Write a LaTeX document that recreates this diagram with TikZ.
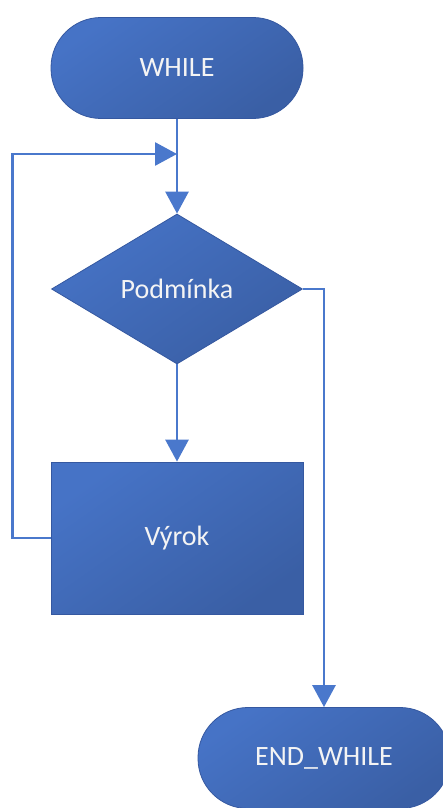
\documentclass[tikz,border=0pt]{standalone}
\usepackage{fontspec}
\setmainfont{Carlito}
\usetikzlibrary{shapes.geometric,arrows.meta}
\definecolor{flowlight}{HTML}{4673C6}
\definecolor{flowdark}{HTML}{3A5FA5}
\definecolor{flowedge}{HTML}{3558A0}
\definecolor{flowline}{HTML}{4A78CC}
\definecolor{flowtext}{HTML}{F4F4F4}
\tikzset{
  flowshape/.style={draw=flowedge, line width=0.8pt, top color=flowlight,
    bottom color=flowdark, shading angle=35, text=flowtext, inner sep=0pt,
    font=\fontsize{28}{34}\selectfont},
  terminal/.style={flowshape, rectangle, rounded corners=50pt,
    minimum width=252pt, minimum height=101pt},
  decision/.style={flowshape, diamond, aspect=1.67,
    minimum width=251pt, minimum height=150pt},
  process/.style={flowshape, rectangle, minimum width=252pt, minimum height=152pt},
  flow/.style={draw=flowline, line width=2.8pt},
  flowarrow/.style={flow, -{Triangle[width=23pt,length=22pt]}}
}
\begin{document}
\begin{tikzpicture}[x=1pt,y=-1pt]
  \clip (0,0) rectangle (443,808);
  % flowchart nodes
  \node[terminal] (start) at (177,68) {WHILE};
  \node[decision] (cond) at (177,289) {Podmínka};
  \node[process] (body) at (177,538) {Výrok};
  \node[terminal] (stop) at (324,758) {END\_WHILE};
  % junction where the loop re-enters
  \coordinate (merge) at (177,154);
  % connectors
  \draw[flowarrow] (start.south) -- (cond.north);
  \draw[flowarrow] (body.west) -- ++(-38,0) |- (merge);
  \draw[flowarrow] (cond.south) -- (body.north);
  \draw[flowarrow] (cond.east) -| (stop.north);
\end{tikzpicture}
\end{document}
